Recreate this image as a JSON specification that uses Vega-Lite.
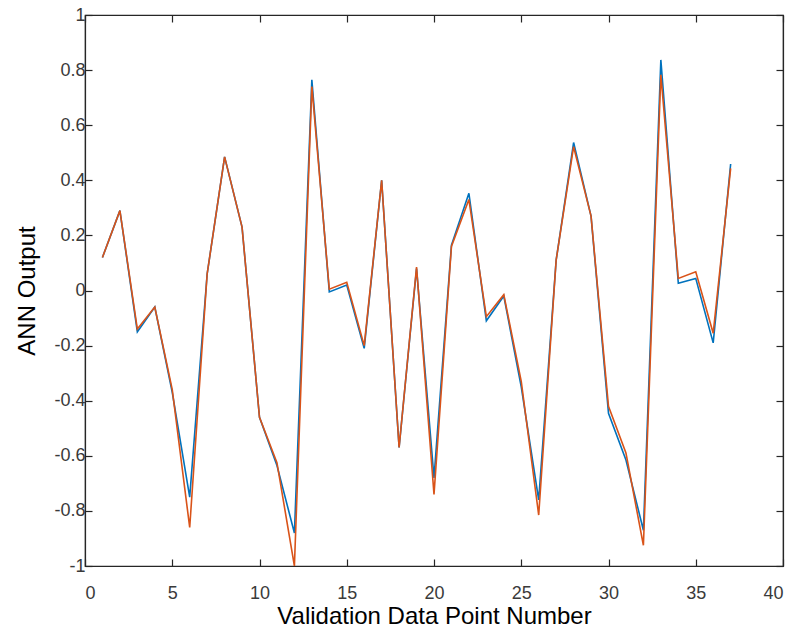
{
  "$schema": "https://vega.github.io/schema/vega-lite/v6.json",
  "width": 698,
  "height": 551,
  "autosize": {"type": "none"},
  "padding": {"left": 85, "top": 15, "right": 16, "bottom": 64},
  "background": "white",
  "config": {
    "font": "Liberation Sans",
    "view": {"stroke": "#262626", "strokeWidth": 1.2},
    "axis": {
      "grid": false,
      "domainColor": "#262626",
      "domainWidth": 1.2,
      "tickColor": "#262626",
      "tickWidth": 1.2,
      "tickSize": -7,
      "labelFont": "Liberation Sans",
      "labelFontSize": 18,
      "labelColor": "#3a3a3a",
      "titleFont": "Liberation Sans",
      "titleFontSize": 24,
      "titleFontWeight": "normal",
      "titleColor": "#000000"
    }
  },
  "data": {
    "values": [
      {"n": 1, "target": 0.12, "ann": 0.12},
      {"n": 2, "target": 0.29, "ann": 0.29},
      {"n": 3, "target": -0.15, "ann": -0.14},
      {"n": 4, "target": -0.06, "ann": -0.06},
      {"n": 5, "target": -0.37, "ann": -0.36},
      {"n": 6, "target": -0.75, "ann": -0.86},
      {"n": 7, "target": 0.06, "ann": 0.06},
      {"n": 8, "target": 0.485, "ann": 0.485},
      {"n": 9, "target": 0.23, "ann": 0.23},
      {"n": 10, "target": -0.46, "ann": -0.46},
      {"n": 11, "target": -0.635, "ann": -0.625},
      {"n": 12, "target": -0.88, "ann": -1.0},
      {"n": 13, "target": 0.765, "ann": 0.74},
      {"n": 14, "target": -0.005, "ann": 0.005},
      {"n": 15, "target": 0.02, "ann": 0.03},
      {"n": 16, "target": -0.21, "ann": -0.2},
      {"n": 17, "target": 0.4, "ann": 0.4},
      {"n": 18, "target": -0.57, "ann": -0.57},
      {"n": 19, "target": 0.08, "ann": 0.085},
      {"n": 20, "target": -0.68, "ann": -0.74},
      {"n": 21, "target": 0.165, "ann": 0.16},
      {"n": 22, "target": 0.353, "ann": 0.33},
      {"n": 23, "target": -0.11, "ann": -0.095},
      {"n": 24, "target": -0.02, "ann": -0.015},
      {"n": 25, "target": -0.35, "ann": -0.33},
      {"n": 26, "target": -0.76, "ann": -0.815},
      {"n": 27, "target": 0.11, "ann": 0.11},
      {"n": 28, "target": 0.537, "ann": 0.522},
      {"n": 29, "target": 0.27, "ann": 0.27},
      {"n": 30, "target": -0.446, "ann": -0.42},
      {"n": 31, "target": -0.615, "ann": -0.59},
      {"n": 32, "target": -0.87, "ann": -0.925},
      {"n": 33, "target": 0.837, "ann": 0.783},
      {"n": 34, "target": 0.026, "ann": 0.044},
      {"n": 35, "target": 0.044, "ann": 0.068},
      {"n": 36, "target": -0.19, "ann": -0.155},
      {"n": 37, "target": 0.459, "ann": 0.443}
    ]
  },
  "layer": [
    {
      "mark": {"type": "line", "color": "#0072BD", "strokeWidth": 1.6, "clip": true},
      "encoding": {
        "x": {
          "field": "n",
          "type": "quantitative",
          "scale": {"domain": [0, 40], "nice": false, "zero": false},
          "axis": {
            "orient": "bottom",
            "title": "Validation Data Point Number",
            "values": [0, 5, 10, 15, 20, 25, 30, 35, 40],
            "labelPadding": 25,
            "titlePadding": 2
          }
        },
        "y": {
          "field": "target",
          "type": "quantitative",
          "scale": {"domain": [-1, 1], "nice": false, "zero": false},
          "axis": {
            "orient": "left",
            "title": "ANN Output",
            "values": [-1, -0.8, -0.6, -0.4, -0.2, 0, 0.2, 0.4, 0.6, 0.8, 1],
            "labelExpr": "'' + datum.value",
            "labelPadding": 7,
            "titlePadding": 14
          }
        }
      }
    },
    {
      "mark": {"type": "line", "color": "#D95319", "strokeWidth": 1.6, "clip": true},
      "encoding": {
        "x": {"field": "n", "type": "quantitative", "axis": null},
        "y": {"field": "ann", "type": "quantitative", "axis": null}
      }
    },
    {
      "mark": {"type": "rule", "opacity": 0},
      "encoding": {
        "x": {
          "field": "n",
          "type": "quantitative",
          "axis": {
            "orient": "top",
            "title": null,
            "labels": false,
            "values": [0, 5, 10, 15, 20, 25, 30, 35, 40]
          }
        },
        "y": {
          "field": "ann",
          "type": "quantitative",
          "axis": {
            "orient": "right",
            "title": null,
            "labels": false,
            "values": [-1, -0.8, -0.6, -0.4, -0.2, 0, 0.2, 0.4, 0.6, 0.8, 1]
          }
        }
      }
    }
  ],
  "resolve": {"axis": {"x": "independent", "y": "independent"}}
}
